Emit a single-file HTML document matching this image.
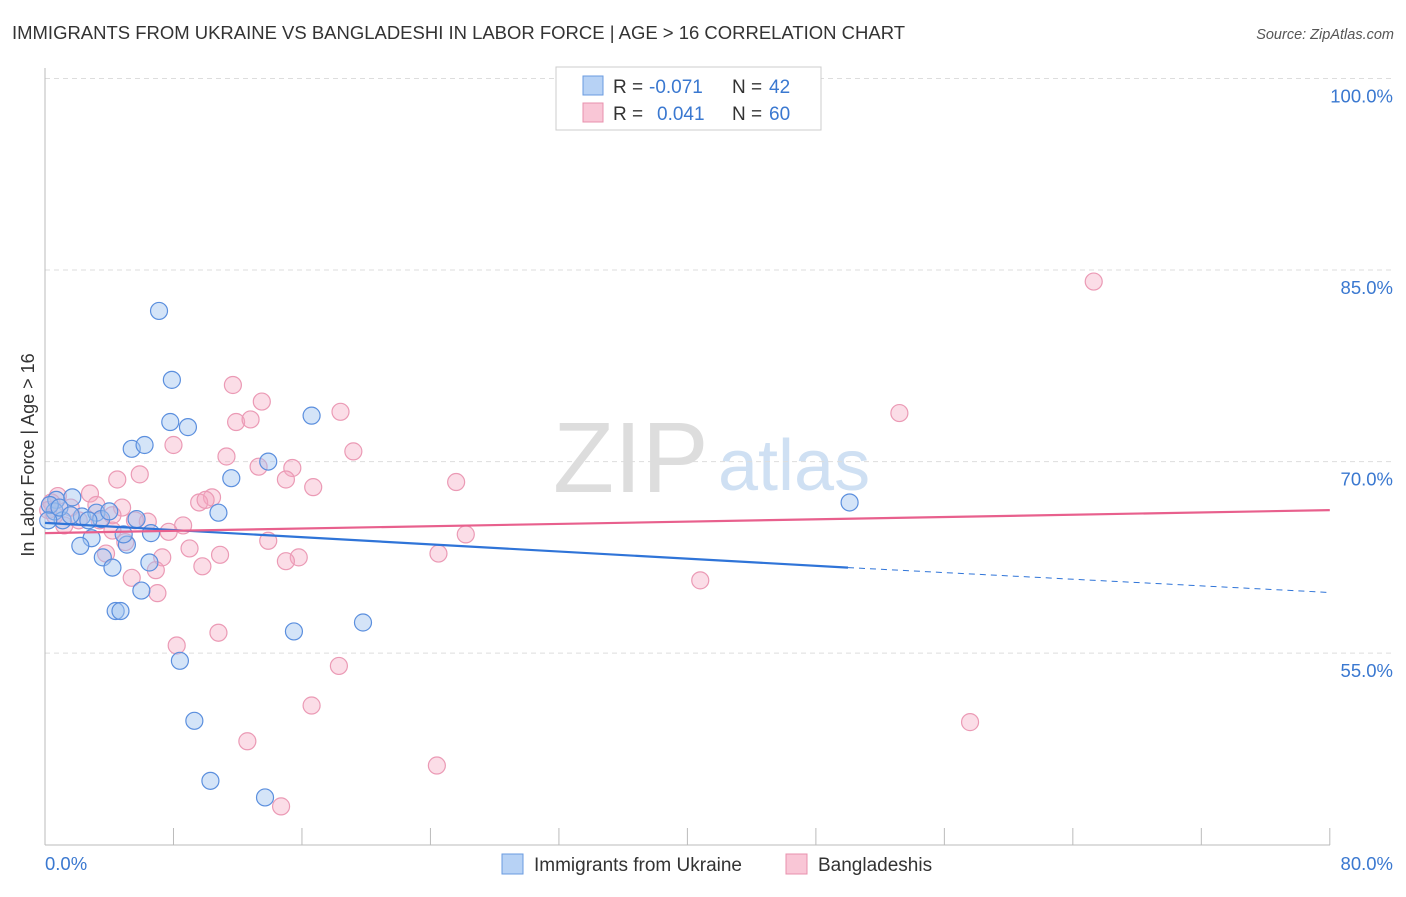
<!DOCTYPE html>
<html><head><meta charset="utf-8"><style>
body{margin:0;background:#fff;font-family:"Liberation Sans",sans-serif;}
svg text{font-family:"Liberation Sans",sans-serif;}
</style></head><body>
<svg id="chart" width="1406" height="892" xmlns="http://www.w3.org/2000/svg">
<text x="12" y="39" font-size="18" fill="#333" textLength="893" lengthAdjust="spacingAndGlyphs">IMMIGRANTS FROM UKRAINE VS BANGLADESHI IN LABOR FORCE | AGE &gt; 16 CORRELATION CHART</text>
<text x="1394" y="39" font-size="14.5" fill="#555" font-style="italic" text-anchor="end">Source: ZipAtlas.com</text>
<g>
<text x="553" y="492" font-size="100" fill="#ddd" font-family="Liberation Serif">ZIP</text>
<text x="718" y="490" font-size="72" fill="#cfe0f3">atlas</text>
</g>
<g id="grid"></g>
<g id="axes"></g>
<g id="marks"></g>
<g>
<rect x="556" y="67" width="265" height="63" fill="#fff" stroke="#ccc"/>
<rect x="583" y="76" width="20" height="19" fill="#b7d2f5" stroke="#6a9be0"/>
<rect x="583" y="103" width="20" height="19" fill="#f9c6d6" stroke="#e890ad"/>
<text x="613" y="93" font-size="19" fill="#333">R =</text>
<text x="649" y="93" font-size="19" fill="#3a78d0">-0.071</text>
<text x="732" y="93" font-size="19" fill="#333">N =</text>
<text x="769" y="93" font-size="19" fill="#3a78d0">42</text>
<text x="613" y="120" font-size="19" fill="#333">R =</text>
<text x="657" y="120" font-size="19" fill="#3a78d0">0.041</text>
<text x="732" y="120" font-size="19" fill="#333">N =</text>
<text x="769" y="120" font-size="19" fill="#3a78d0">60</text>
</g>
<g>
<rect x="502" y="854" width="21" height="20" fill="#b7d2f5" stroke="#6a9be0"/>
<text x="534" y="871" font-size="19" fill="#333">Immigrants from Ukraine</text>
<rect x="786" y="854" width="21" height="20" fill="#f9c6d6" stroke="#e890ad"/>
<text x="818" y="871" font-size="19" fill="#333">Bangladeshis</text>
</g>
<text x="34" y="455" font-size="18" fill="#333" transform="rotate(-90 34 455)" text-anchor="middle">In Labor Force | Age &gt; 16</text>
</svg>
<script>
const ukraineX=[7.1,7.9,7.8,8.9,5.4,6.2,16.6,13.9,11.6,50.1,0.7,1.7,0.6,1.1,2.3,3.2,3.5,4.0,5.7,10.8,2.9,2.2,5.1,4.9,6.6,3.6,4.2,6.0,6.5,4.4,4.7,15.5,19.8,8.4,9.3,10.3,13.7,0.3,0.9,1.6,0.2,2.7];
const ukraineY=[81.8,76.4,73.1,72.7,71.0,71.3,73.6,70.0,68.7,66.8,67.0,67.2,66.1,65.4,65.7,66.0,65.5,66.1,65.5,66.0,64.0,63.4,63.5,64.3,64.4,62.5,61.7,59.9,62.1,58.3,58.3,56.7,57.4,54.4,49.7,45.0,43.7,66.6,66.4,65.8,65.4,65.4];
const bangX=[65.3,53.2,11.7,13.5,11.9,12.8,18.4,8.0,19.2,11.3,13.3,15.4,5.9,4.5,25.6,15.0,16.7,2.8,0.8,10.4,9.6,10.0,4.8,3.2,6.4,8.6,4.2,26.2,7.7,13.9,9.0,5.0,10.9,24.5,7.3,15.8,15.0,9.8,6.9,5.4,40.8,7.0,3.8,10.8,8.2,18.3,16.6,57.6,12.6,24.4,14.7,0.4,0.2,1.6,1.2,2.1,3.4,5.6,4.2,0.6];
const bangY=[84.1,73.8,76.0,74.7,73.1,73.3,73.9,71.3,70.8,70.4,69.6,69.5,69.0,68.6,68.4,68.6,68.0,67.5,67.3,67.2,66.8,67.0,66.4,66.6,65.3,65.0,65.8,64.3,64.5,63.8,63.2,63.7,62.7,62.8,62.5,62.5,62.2,61.8,61.5,60.9,60.7,59.7,62.8,56.6,55.6,54.0,50.9,49.6,48.1,46.2,43.0,66.8,66.2,66.4,65.0,65.4,65.4,65.4,64.6,65.8];
const ukraineTrend=[65.2,61.7,59.75]; // at x=0, 50 (solid end), 80
const bangTrend=[64.4,66.2]; // at x=0, 80
const yTicks=[100,85,70,55];
const xTickVals=[0,8,16,24,32,40,48,56,64,72,80];

const NS="http://www.w3.org/2000/svg";
const sx=v=>45+v*16.06;
const sy=v=>78.5+(100-v)*12.77;
function mk(tag,attrs,parent){const e=document.createElementNS(NS,tag);for(const k in attrs)e.setAttribute(k,attrs[k]);parent.appendChild(e);return e;}
const grid=document.getElementById('grid'),axes=document.getElementById('axes'),marks=document.getElementById('marks');
yTicks.forEach(t=>{
  const l=mk('line',{x1:45,x2:1394,y1:sy(t),y2:sy(t),stroke:'#ddd','stroke-dasharray':'5,4'},grid);
  
  
  const tx=mk('text',{x:1393,y:sy(t)+24,'font-size':18.5,fill:'#3a78d0','text-anchor':'end'},axes);
  tx.textContent=t.toFixed(1)+'%';
  
  
});
const ya=mk('line',{x1:45,x2:45,y1:68,y2:845,stroke:'#bbb'},axes);


const xa=mk('line',{x1:45,x2:1330,y1:845,y2:845,stroke:'#bbb'},axes);


xTickVals.forEach(t=>{
  const l=mk('line',{x1:sx(t),x2:sx(t),y1:828,y2:845,stroke:'#bbb'},axes);
  
  
});
const xl0=mk('text',{x:45,y:870,'font-size':18.5,fill:'#3a78d0'},axes);xl0.textContent='0.0%';


const xl1=mk('text',{x:1393,y:870,'font-size':18.5,fill:'#3a78d0','text-anchor':'end'},axes);xl1.textContent='80.0%';



bangX.forEach((x,i)=>{
  const c=mk('circle',{cx:sx(x),cy:sy(bangY[i]),r:8.5,fill:'rgba(245,165,192,0.38)',stroke:'#eb9ab5','stroke-width':1.2},marks);
  
  
});
ukraineX.forEach((x,i)=>{
  const c=mk('circle',{cx:sx(x),cy:sy(ukraineY[i]),r:8.5,fill:'rgba(160,196,240,0.45)',stroke:'#5b8fde','stroke-width':1.2},marks);
  
  
});
const t1=mk('line',{x1:sx(0),y1:sy(ukraineTrend[0]),x2:sx(50),y2:sy(ukraineTrend[1]),stroke:'#2f74d8','stroke-width':2.2},marks);


const t2=mk('line',{x1:sx(50),y1:sy(ukraineTrend[1]),x2:sx(80),y2:sy(ukraineTrend[2]),stroke:'#2f74d8','stroke-width':1,'stroke-dasharray':'6,5'},marks);


const t3=mk('line',{x1:sx(0),y1:sy(bangTrend[0]),x2:sx(80),y2:sy(bangTrend[1]),stroke:'#e8608d','stroke-width':2.2},marks);


</script>
</body></html>
